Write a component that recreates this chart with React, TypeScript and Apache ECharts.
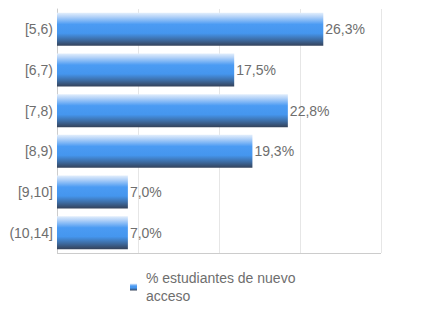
import React, { useEffect, useRef } from "react";
import * as echarts from "echarts";

const categories = ["[5,6)", "[6,7)", "[7,8)", "[8,9)", "[9,10]", "(10,14]"];
const values = [26.3, 17.5, 22.8, 19.3, 7.0, 7.0];
const seriesName = "% estudiantes de nuevo acceso";
const legendLines = ["% estudiantes de nuevo", "acceso"];

const FONT = "Liberation Sans, Arial, sans-serif";

export default function App() {
  const ref = useRef<HTMLDivElement>(null);
  useEffect(() => {
    if (!ref.current) return;
    const chart = echarts.init(ref.current, null, { renderer: "svg" });
    const grad = new echarts.graphic.LinearGradient(0, 0, 0, 1, [
      { offset: 0, color: "#e2eefc" },
      { offset: 0.12, color: "#b3d2f8" },
      { offset: 0.35, color: "#4b9bf3" },
      { offset: 0.62, color: "#4596ee" },
      { offset: 0.82, color: "#3d6ca3" },
      { offset: 1, color: "#34425a" },
    ]);
    chart.setOption({
      animation: false,
      textStyle: { fontFamily: FONT },
      grid: { left: 57, right: 51, top: 9, bottom: 71, containLabel: false },
      xAxis: {
        type: "value",
        min: 0,
        max: 32,
        interval: 8,
        axisLabel: { show: false },
        axisTick: { show: false },
        axisLine: { show: false },
        splitLine: { show: true, lineStyle: { color: "#e6e6e6", width: 1 } },
      },
      yAxis: {
        type: "category",
        data: categories,
        inverse: true,
        axisTick: { show: false },
        axisLine: { show: true, lineStyle: { color: "#cccccc", width: 1 } },
        axisLabel: { color: "#6e6e6e", fontSize: 14, margin: 4, fontFamily: FONT },
      },
      graphic: [
        {
          type: "line",
          shape: { x1: 57, y1: 253.5, x2: 381, y2: 253.5 },
          style: { stroke: "#cccccc", lineWidth: 1 },
          z: 10,
        },
      ],
      legend: {
        left: 130,
        top: 269,
        padding: 0,
        itemWidth: 7,
        itemHeight: 7,
        itemGap: 10,
        icon: "rect",
        formatter: () => legendLines.join("\n"),
        textStyle: {
          color: "#6e6e6e",
          fontSize: 14,
          lineHeight: 18,
          fontFamily: FONT,
          padding: [0, 0, 0, 4],
        },
        data: [seriesName],
      },
      series: [
        {
          name: seriesName,
          type: "bar",
          data: values,
          barCategoryGap: "19%",
          itemStyle: { color: grad },
          label: {
            show: true,
            position: "right",
            distance: 2,
            color: "#6e6e6e",
            fontSize: 14,
            fontFamily: FONT,
            formatter: (p: any) => p.value.toFixed(1).replace(".", ",") + "%",
          },
        },
      ],
    });
    return () => chart.dispose();
  }, []);
  return (
    <div
      ref={ref}
      style={{ position: "absolute", left: 0, top: 0, width: 432, height: 324, background: "#fff" }}
    />
  );
}
